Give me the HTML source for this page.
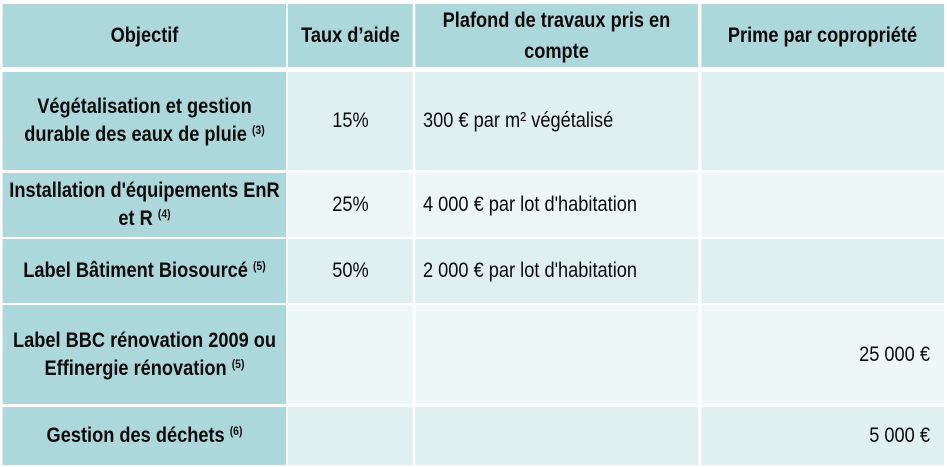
<!DOCTYPE html>
<html>
<head>
<meta charset="utf-8">
<style>
  html, body { margin:0; padding:0; background:#ffffff; }
  #wrap { position:relative; width:947px; height:467px; overflow:hidden; background:#ffffff; }
  #inner { position:absolute; left:0; top:0; width:calc(947px / 0.867); height:467px; transform:scaleX(0.867); transform-origin:0 0; }
  .c { position:absolute; box-sizing:border-box; display:flex; align-items:center; font-family:"Liberation Sans", Arial, sans-serif; font-size:21px; color:#0a0a0a; }
  .c > span { display:block; white-space:nowrap; }
  .h { background:#acd8dc; font-weight:bold; justify-content:center; text-align:center; line-height:31px; }
  .k { background:#acd8dc; font-weight:bold; justify-content:center; text-align:center; line-height:28px; }
  .a { background:#e0f0f1; }
  .b { background:#eef7f8; }
  .ctr { justify-content:center; text-align:center; }
  .lft { justify-content:flex-start; padding-left:calc(8px / 0.867); }
  .rgt { justify-content:flex-end; padding-right:calc(14px / 0.867); }
  sup { font-size:12px; vertical-align:7px; line-height:0; font-weight:bold; }
  /* columns */
  .c1 { left:calc(3px / 0.867); width:calc(283px / 0.867); }
  .c2 { left:calc(288px / 0.867); width:calc(125px / 0.867); }
  .c3 { left:calc(415px / 0.867); width:calc(283px / 0.867); }
  .c4 { left:calc(701px / 0.867); width:calc(243px / 0.867); }
  /* rows */
  .r0 { top:4px; height:63px; }
  .r1 { top:72px; height:98px; }
  .r2 { top:173px; height:64px; }
  .r3 { top:239px; height:64px; }
  .r4 { top:305px; height:99px; }
  .r5 { top:407px; height:58px; }
</style>
</head>
<body>
<div id="wrap">
  <div id="inner">
    <!-- header -->
    <div class="c h c1 r0"><span>Objectif</span></div>
    <div class="c h c2 r0"><span>Taux d’aide</span></div>
    <div class="c h c3 r0"><span>Plafond de travaux pris en<br>compte</span></div>
    <div class="c h c4 r0"><span>Prime par copropriété</span></div>

    <!-- row 1 -->
    <div class="c k c1 r1"><span>Végétalisation et gestion<br>durable des eaux de pluie <sup>(3)</sup></span></div>
    <div class="c a ctr c2 r1"><span>15%</span></div>
    <div class="c a lft c3 r1"><span>300 € par m² végétalisé</span></div>
    <div class="c a c4 r1"></div>

    <!-- row 2 -->
    <div class="c k c1 r2"><span>Installation d'équipements EnR<br>et R <sup>(4)</sup></span></div>
    <div class="c b ctr c2 r2"><span>25%</span></div>
    <div class="c b lft c3 r2"><span>4 000 € par lot d'habitation</span></div>
    <div class="c b c4 r2"></div>

    <!-- row 3 -->
    <div class="c k c1 r3"><span>Label Bâtiment Biosourcé <sup>(5)</sup></span></div>
    <div class="c a ctr c2 r3"><span>50%</span></div>
    <div class="c a lft c3 r3"><span>2 000 € par lot d'habitation</span></div>
    <div class="c a c4 r3"></div>

    <!-- row 4 -->
    <div class="c k c1 r4"><span>Label BBC rénovation 2009 ou<br>Effinergie rénovation <sup>(5)</sup></span></div>
    <div class="c b c2 r4"></div>
    <div class="c b c3 r4"></div>
    <div class="c b rgt c4 r4"><span>25 000 €</span></div>

    <!-- row 5 -->
    <div class="c k c1 r5"><span>Gestion des déchets <sup>(6)</sup></span></div>
    <div class="c a c2 r5"></div>
    <div class="c a c3 r5"></div>
    <div class="c a rgt c4 r5"><span>5 000 €</span></div>
  </div>
</div>
</body>
</html>
